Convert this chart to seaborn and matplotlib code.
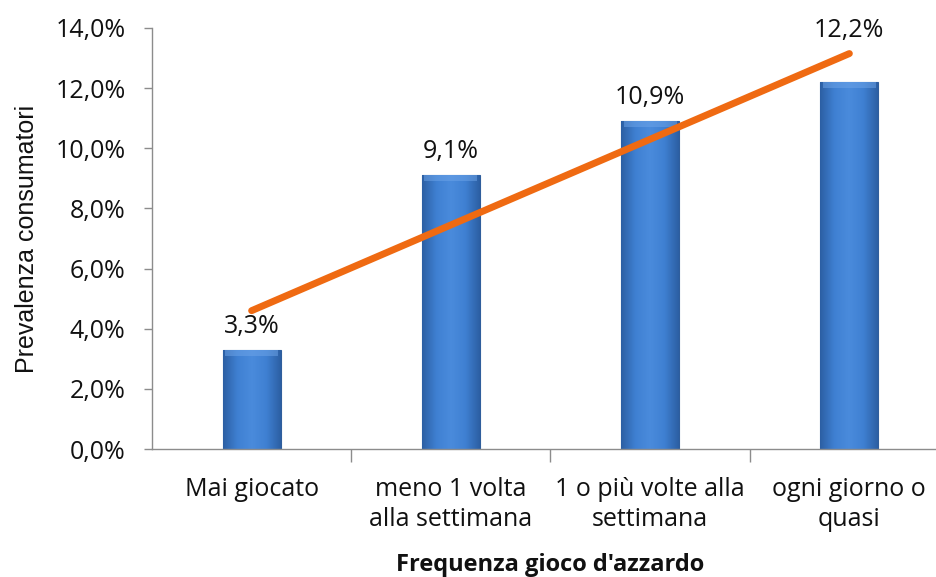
import numpy as np
import pandas as pd
import matplotlib
matplotlib.use("Agg")
import matplotlib.pyplot as plt
import seaborn as sns
from matplotlib.colors import LinearSegmentedColormap

# Prevalence of consumers by gambling frequency
categories = ["Mai giocato", "meno 1 volta\nalla settimana",
              "1 o più volte alla\nsettimana", "ogni giorno o\nquasi"]
prevalence = [3.3, 9.1, 10.9, 12.2]
y_ticks = [0, 2, 4, 6, 8, 10, 12, 14]
x_title = "Frequenza gioco d'azzardo"
y_title = "Prevalenza consumatori"

df = pd.DataFrame({"categoria": categories, "valore": prevalence})

sns.set_theme(style="white")
plt.rcParams["font.family"] = ["Open Sans", "DejaVu Sans"]

fig = plt.figure(figsize=(9.37, 5.77), dpi=100)
ax = fig.add_axes([152 / 937, 1 - 449 / 577, 797 / 937, 421 / 577])

sns.barplot(data=df, x="categoria", y="valore", ax=ax, width=0.29,
            color="#3B7CCB", edgecolor="#2F5E9C", linewidth=0.8, zorder=2)

# Bevelled blue shading on each bar
shade = LinearSegmentedColormap.from_list(
    "bevel", ["#2C5FA3", "#3F80D2", "#4A8BDC", "#3F80D2", "#2C5FA3"])
grad = np.linspace(0, 1, 256).reshape(1, -1)
for patch in ax.patches:
    x0, y0 = patch.get_x(), patch.get_y()
    w, h = patch.get_width(), patch.get_height()
    im = ax.imshow(grad, cmap=shade, aspect="auto",
                   extent=(x0, x0 + w, y0, y0 + h), zorder=2.5)
    im.set_clip_path(patch)
    # lighter top edge
    ax.fill_between([x0 + w * 0.04, x0 + w * 0.96], y0 + h - 0.2, y0 + h,
                    color="#6FA5E8", alpha=0.5, lw=0, zorder=2.6)

# Value labels above the bars (the last one lifted clear of the trend line)
label_lift = [8, 8, 8, 28]
for i, v in enumerate(prevalence):
    ax.annotate(f"{v:.1f}%".replace(".", ","), (i, v),
                xytext=(0, label_lift[i]), textcoords="offset points",
                ha="center", va="bottom", fontsize=18, color="#111111",
                zorder=3)

# Linear trend over the categories
xs = np.arange(len(prevalence))
slope, intercept = np.polyfit(xs, prevalence, 1)
ax.plot(xs, slope * xs + intercept, color="#EF6A12", lw=5,
        solid_capstyle="round", zorder=4)

ax.set_xlim(-0.5, 3.5)
ax.set_ylim(0, 14)
ax.set_yticks(y_ticks)
ax.set_yticklabels([f"{t:.1f}%".replace(".", ",") for t in y_ticks],
                   fontsize=18, color="#111111")
ax.set_xticks(xs)
ax.set_xticklabels(categories, fontsize=18, color="#111111", linespacing=1.3)
ax.set_xticks([0.5, 1.5, 2.5], minor=True)

ax.tick_params(axis="y", which="major", direction="out", length=6,
               width=1, color="#8C8C8C", left=True, pad=13)
ax.tick_params(axis="x", which="major", length=0, pad=20)
ax.tick_params(axis="x", which="minor", direction="out", length=9,
               width=1, color="#8C8C8C", bottom=True)

for side in ["top", "right"]:
    ax.spines[side].set_visible(False)
for side in ["left", "bottom"]:
    ax.spines[side].set_color("#8C8C8C")
    ax.spines[side].set_linewidth(1)

ax.set_xlabel(x_title, fontsize=17, fontweight="bold", color="#111111",
              labelpad=15)
ax.set_ylabel(y_title, fontsize=18, color="#111111", labelpad=12,
              family=["Liberation Sans", "DejaVu Sans"])

fig.savefig("out.png", dpi=100)
